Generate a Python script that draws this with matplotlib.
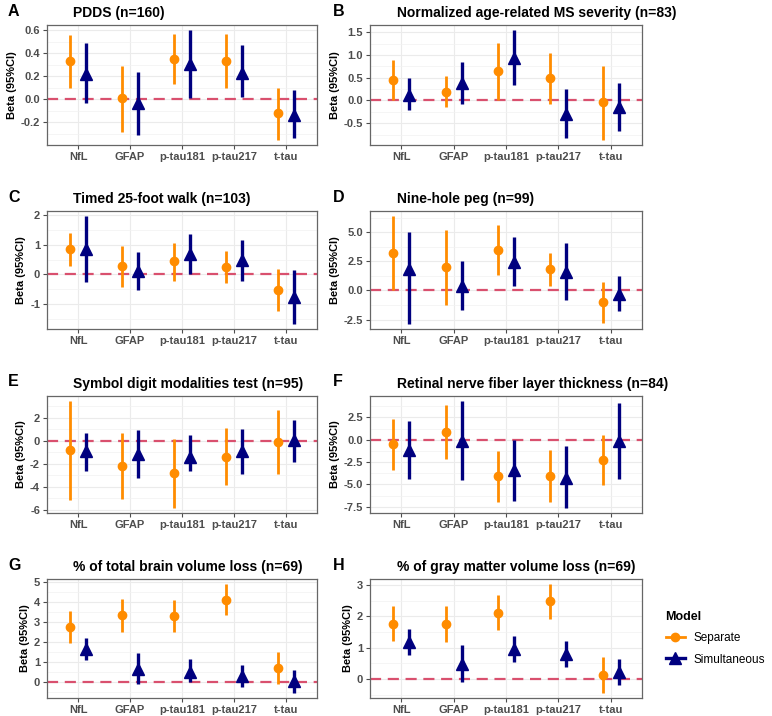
import matplotlib
matplotlib.use("Agg")
import matplotlib.pyplot as plt
from matplotlib.lines import Line2D
from matplotlib.ticker import MultipleLocator, FuncFormatter

plt.rcParams['font.family'] = ['Liberation Sans', 'DejaVu Sans']

biomarkers = ["NfL", "GFAP", "p-tau181", "p-tau217", "t-tau"]
panel_letters = ["A", "B", "C", "D", "E", "F", "G", "H"]
titles = [
    "PDDS (n=160)",
    "Normalized age-related MS severity (n=83)",
    "Timed 25-foot walk (n=103)",
    "Nine-hole peg (n=99)",
    "Symbol digit modalities test (n=95)",
    "Retinal nerve fiber layer thickness (n=84)",
    "% of total brain volume loss (n=69)",
    "% of gray matter volume loss (n=69)",
]

# Separate model: estimate, lower, upper
sep_est = [
    [0.33, 0.01, 0.35, 0.33, -0.12],
    [0.46, 0.19, 0.64, 0.50, -0.04],
    [0.84, 0.28, 0.44, 0.25, -0.51],
    [3.20, 2.00, 3.45, 1.80, -1.00],
    [-0.75, -2.15, -2.75, -1.40, -0.05],
    [-0.50, 0.85, -4.05, -4.05, -2.30],
    [2.77, 3.35, 3.33, 4.13, 0.70],
    [1.77, 1.76, 2.12, 2.48, 0.14],
]
sep_lo = [
    [0.10, -0.28, 0.13, 0.10, -0.35],
    [0.01, -0.15, 0.01, -0.07, -0.86],
    [0.28, -0.42, -0.21, -0.29, -1.23],
    [0.05, -1.25, 1.30, 0.35, -2.80],
    [-5.10, -5.05, -5.80, -3.85, -2.85],
    [-3.40, -2.20, -6.95, -7.00, -5.10],
    [1.93, 2.50, 2.50, 3.35, -0.12],
    [1.20, 1.17, 1.56, 1.93, -0.43],
]
sep_hi = [
    [0.56, 0.29, 0.57, 0.57, 0.10],
    [0.88, 0.53, 1.26, 1.05, 0.75],
    [1.39, 0.97, 1.07, 0.78, 0.20],
    [6.35, 5.20, 5.60, 3.25, 0.75],
    [3.45, 0.70, 0.20, 1.10, 2.70],
    [2.30, 3.90, -1.30, -1.10, 0.50],
    [3.56, 4.17, 4.10, 4.90, 1.52],
    [2.32, 2.33, 2.67, 3.02, 0.72],
]
# Simultaneous model
sim_est = [
    [0.22, -0.03, 0.31, 0.23, -0.14],
    [0.13, 0.38, 0.94, -0.30, -0.14],
    [0.85, 0.12, 0.68, 0.50, -0.77],
    [1.82, 0.38, 2.46, 1.62, -0.33],
    [-0.90, -1.10, -1.40, -0.90, 0.05],
    [-1.20, -0.10, -3.35, -4.25, -0.10],
    [1.66, 0.64, 0.50, 0.31, 0.02],
    [1.19, 0.47, 0.96, 0.81, 0.22],
]
sim_lo = [
    [-0.03, -0.31, 0.01, 0.02, -0.34],
    [-0.20, -0.07, 0.34, -0.83, -0.68],
    [-0.24, -0.52, 0.01, -0.21, -1.65],
    [-2.85, -1.65, 0.35, -0.85, -1.80],
    [-2.60, -3.20, -2.60, -2.85, -1.85],
    [-4.35, -4.50, -6.90, -7.60, -4.35],
    [1.07, -0.13, -0.02, -0.28, -0.55],
    [0.78, -0.10, 0.54, 0.39, -0.20],
]
sim_hi = [
    [0.49, 0.24, 0.60, 0.47, 0.08],
    [0.50, 0.85, 1.54, 0.26, 0.38],
    [1.95, 0.76, 1.35, 1.17, 0.14],
    [5.05, 2.50, 4.55, 4.10, 1.20],
    [0.70, 0.95, 0.55, 1.00, 1.80],
    [2.05, 4.30, 0.00, -0.70, 4.15],
    [2.18, 1.43, 1.12, 0.86, 0.60],
    [1.60, 1.08, 1.37, 1.23, 0.65],
]
y_major_step = [0.2, 0.5, 1, 2.5, 2, 2.5, 1, 1]
y_decimals = [1, 1, 0, 1, 0, 1, 0, 0]

model_labels = ["Separate", "Simultaneous"]
col_sep = "#FF8C00"
col_sim = "#00007F"
ref_col = "#D9506E"

W, H = 772, 716
fig = plt.figure(figsize=(W / 100, H / 100), dpi=100)

col_left = [47, 370]
col_right = [317, 642]
row_top = [25, 211, 396, 579]
row_bot = [145, 329, 513, 698]
title_x = [73, 397]

dodge = 0.155
xs = list(range(1, len(biomarkers) + 1))


def fmt(v, p, d):
    if abs(v) < 1e-9:
        v = 0.0
    return f"{v:.{d}f}"


for i in range(8):
    r, c = divmod(i, 2)
    l, rr, t, b = col_left[c], col_right[c], row_top[r], row_bot[r]
    ax = fig.add_axes([l / W, 1 - b / H, (rr - l) / W, (b - t) / H])
    ax.set_facecolor("white")
    for sp in ax.spines.values():
        sp.set_color("#666666")
        sp.set_linewidth(0.9)
    step = y_major_step[i]
    ax.yaxis.set_major_locator(MultipleLocator(step))
    ax.yaxis.set_minor_locator(MultipleLocator(step / 2))
    d = y_decimals[i]
    ax.yaxis.set_major_formatter(FuncFormatter(lambda v, p, d=d: fmt(v, p, d)))
    ax.grid(which="major", color="#EBEBEB", linewidth=0.8, zorder=0)
    ax.grid(which="minor", axis="y", color="#F2F2F2", linewidth=0.5, zorder=0)
    ax.set_axisbelow(True)

    ax.axhline(0, color=ref_col, linewidth=1.6, dashes=(5, 3), zorder=1)

    for j, x in enumerate(xs):
        ax.plot([x - dodge, x - dodge], [sep_lo[i][j], sep_hi[i][j]], color=col_sep,
                linewidth=2.0, solid_capstyle="butt", zorder=2)
        ax.plot([x + dodge, x + dodge], [sim_lo[i][j], sim_hi[i][j]], color=col_sim,
                linewidth=2.4, solid_capstyle="butt", zorder=2)
    ax.plot([x - dodge for x in xs], sep_est[i], "o", color=col_sep, markersize=6, zorder=3, linestyle="none")
    ax.plot([x + dodge for x in xs], sim_est[i], "^", color=col_sim, markersize=8, zorder=3, linestyle="none")

    ax.set_xlim(0.4, len(biomarkers) + 0.6)
    ax.margins(y=0.05)
    ax.set_xticks(xs)
    ax.set_xticklabels(biomarkers)
    ax.tick_params(axis="both", which="major", labelsize=8, colors="#4D4D4D", length=3, width=0.8, pad=2)
    ax.tick_params(axis="both", which="minor", length=0)
    for lab in ax.get_xticklabels() + ax.get_yticklabels():
        lab.set_fontweight("bold")
        lab.set_color("#4D4D4D")
    ax.set_ylabel("Beta (95%CI)", fontsize=8, fontweight="bold", labelpad=3)

    fig.text(title_x[c] / W, 1 - (row_top[r] - 12) / H, titles[i], fontsize=10, fontweight="bold",
             ha="left", va="center")
    fig.text((8 if c == 0 else 333) / W, 1 - (row_top[r] - 14) / H, panel_letters[i], fontsize=11.5,
             fontweight="bold", ha="left", va="center")

handles = [
    Line2D([0], [0], color=col_sep, marker="o", markersize=6, linewidth=2.0),
    Line2D([0], [0], color=col_sim, marker="^", markersize=8, linewidth=2.4),
]
leg = fig.legend(handles, model_labels, title="Model", loc="upper left",
                 bbox_to_anchor=(655 / W, 1 - 600 / H), frameon=False, fontsize=8.5,
                 title_fontsize=9, handlelength=1.6, labelspacing=0.8, alignment="left")
leg.get_title().set_fontweight("bold")

fig.savefig("out.png", dpi=100)
